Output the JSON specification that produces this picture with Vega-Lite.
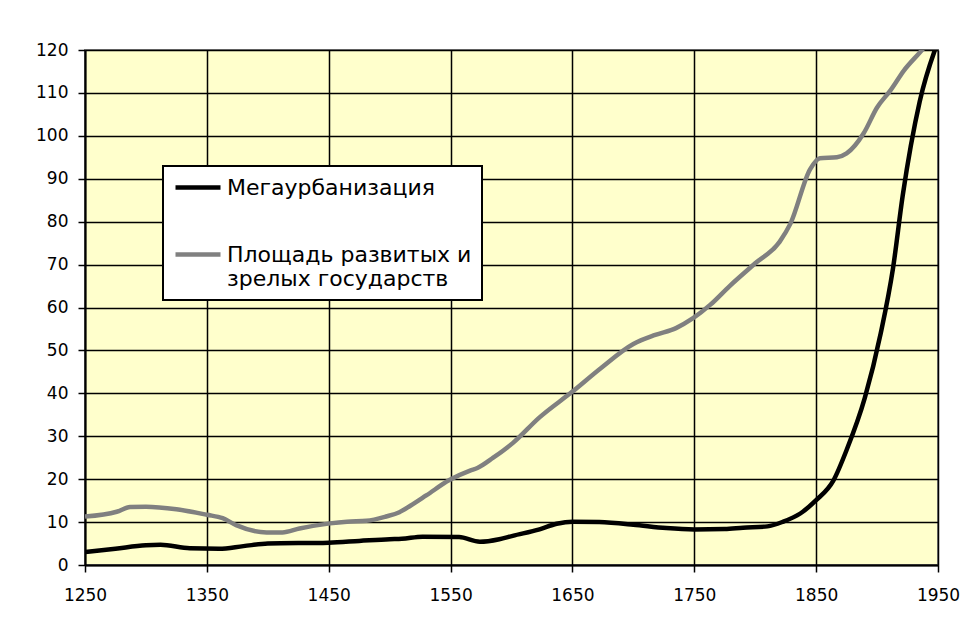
{
  "$schema": "https://vega.github.io/schema/vega-lite/v6.json",
  "autosize": "none",
  "width": 853,
  "height": 515,
  "padding": {"left": 85, "top": 50, "right": 24, "bottom": 58},
  "background": "white",
  "data": {
    "values": [
      {"year": 1250, "value": 3.0, "series": "Мегаурбанизация"},
      {"year": 1275, "value": 3.8, "series": "Мегаурбанизация"},
      {"year": 1300, "value": 4.6, "series": "Мегаурбанизация"},
      {"year": 1312, "value": 4.7, "series": "Мегаурбанизация"},
      {"year": 1336, "value": 3.9, "series": "Мегаурбанизация"},
      {"year": 1360, "value": 3.8, "series": "Мегаурбанизация"},
      {"year": 1380, "value": 4.4, "series": "Мегаурбанизация"},
      {"year": 1400, "value": 5.0, "series": "Мегаурбанизация"},
      {"year": 1450, "value": 5.2, "series": "Мегаурбанизация"},
      {"year": 1475, "value": 5.6, "series": "Мегаурбанизация"},
      {"year": 1500, "value": 6.0, "series": "Мегаурбанизация"},
      {"year": 1510, "value": 6.1, "series": "Мегаурбанизация"},
      {"year": 1527, "value": 6.6, "series": "Мегаурбанизация"},
      {"year": 1557, "value": 6.5, "series": "Мегаурбанизация"},
      {"year": 1574, "value": 5.4, "series": "Мегаурбанизация"},
      {"year": 1590, "value": 6.0, "series": "Мегаурбанизация"},
      {"year": 1601, "value": 6.8, "series": "Мегаурбанизация"},
      {"year": 1623, "value": 8.3, "series": "Мегаурбанизация"},
      {"year": 1637, "value": 9.6, "series": "Мегаурбанизация"},
      {"year": 1650, "value": 10.1, "series": "Мегаурбанизация"},
      {"year": 1672, "value": 10.0, "series": "Мегаурбанизация"},
      {"year": 1700, "value": 9.4, "series": "Мегаурбанизация"},
      {"year": 1727, "value": 8.6, "series": "Мегаурбанизация"},
      {"year": 1750, "value": 8.3, "series": "Мегаурбанизация"},
      {"year": 1775, "value": 8.4, "series": "Мегаурбанизация"},
      {"year": 1790, "value": 8.7, "series": "Мегаурбанизация"},
      {"year": 1810, "value": 9.0, "series": "Мегаурбанизация"},
      {"year": 1823, "value": 10.1, "series": "Мегаурбанизация"},
      {"year": 1837, "value": 12.0, "series": "Мегаурбанизация"},
      {"year": 1850, "value": 15.1, "series": "Мегаурбанизация"},
      {"year": 1864, "value": 19.6, "series": "Мегаурбанизация"},
      {"year": 1875, "value": 26.8, "series": "Мегаурбанизация"},
      {"year": 1890, "value": 39.0, "series": "Мегаурбанизация"},
      {"year": 1903, "value": 54.0, "series": "Мегаурбанизация"},
      {"year": 1913, "value": 69.0, "series": "Мегаурбанизация"},
      {"year": 1921, "value": 86.0, "series": "Мегаурбанизация"},
      {"year": 1935, "value": 108.0, "series": "Мегаурбанизация"},
      {"year": 1950, "value": 122.0, "series": "Мегаурбанизация"},
      {"year": 1250, "value": 11.3, "series": "Площадь развитых и зрелых государств"},
      {"year": 1276, "value": 12.4, "series": "Площадь развитых и зрелых государств"},
      {"year": 1287, "value": 13.5, "series": "Площадь развитых и зрелых государств"},
      {"year": 1300, "value": 13.6, "series": "Площадь развитых и зрелых государств"},
      {"year": 1325, "value": 13.0, "series": "Площадь развитых и зрелых государств"},
      {"year": 1350, "value": 11.7, "series": "Площадь развитых и зрелых государств"},
      {"year": 1363, "value": 10.9, "series": "Площадь развитых и зрелых государств"},
      {"year": 1374, "value": 9.3, "series": "Площадь развитых и зрелых государств"},
      {"year": 1399, "value": 7.6, "series": "Площадь развитых и зрелых государств"},
      {"year": 1412, "value": 7.6, "series": "Площадь развитых и зрелых государств"},
      {"year": 1426, "value": 8.5, "series": "Площадь развитых и зрелых государств"},
      {"year": 1451, "value": 9.7, "series": "Площадь развитых и зрелых государств"},
      {"year": 1465, "value": 10.1, "series": "Площадь развитых и зрелых государств"},
      {"year": 1481, "value": 10.3, "series": "Площадь развитых и зрелых государств"},
      {"year": 1497, "value": 11.3, "series": "Площадь развитых и зрелых государств"},
      {"year": 1508, "value": 12.3, "series": "Площадь развитых и зрелых государств"},
      {"year": 1517, "value": 13.8, "series": "Площадь развитых и зрелых государств"},
      {"year": 1530, "value": 16.2, "series": "Площадь развитых и зрелых государств"},
      {"year": 1549, "value": 19.8, "series": "Площадь развитых и зрелых государств"},
      {"year": 1566, "value": 22.0, "series": "Площадь развитых и зрелых государств"},
      {"year": 1572, "value": 22.6, "series": "Площадь развитых и зрелых государств"},
      {"year": 1585, "value": 25.0, "series": "Площадь развитых и зрелых государств"},
      {"year": 1601, "value": 28.4, "series": "Площадь развитых и зрелых государств"},
      {"year": 1623, "value": 34.4, "series": "Площадь развитых и зрелых государств"},
      {"year": 1650, "value": 40.4, "series": "Площадь развитых и зрелых государств"},
      {"year": 1673, "value": 45.8, "series": "Площадь развитых и зрелых государств"},
      {"year": 1700, "value": 51.5, "series": "Площадь развитых и зрелых государств"},
      {"year": 1718, "value": 53.6, "series": "Площадь развитых и зрелых государств"},
      {"year": 1735, "value": 55.2, "series": "Площадь развитых и зрелых государств"},
      {"year": 1749, "value": 57.5, "series": "Площадь развитых и зрелых государств"},
      {"year": 1763, "value": 60.6, "series": "Площадь развитых и зрелых государств"},
      {"year": 1779, "value": 65.0, "series": "Площадь развитых и зрелых государств"},
      {"year": 1800, "value": 70.3, "series": "Площадь развитых и зрелых государств"},
      {"year": 1820, "value": 75.3, "series": "Площадь развитых и зрелых государств"},
      {"year": 1829, "value": 79.6, "series": "Площадь развитых и зрелых государств"},
      {"year": 1845, "value": 92.2, "series": "Площадь развитых и зрелых государств"},
      {"year": 1853, "value": 94.8, "series": "Площадь развитых и зрелых государств"},
      {"year": 1867, "value": 95.0, "series": "Площадь развитых и зрелых государств"},
      {"year": 1875, "value": 95.9, "series": "Площадь развитых и зрелых государств"},
      {"year": 1889, "value": 100.6, "series": "Площадь развитых и зрелых государств"},
      {"year": 1900, "value": 106.6, "series": "Площадь развитых и зрелых государств"},
      {"year": 1911, "value": 110.6, "series": "Площадь развитых и зрелых государств"},
      {"year": 1922, "value": 115.2, "series": "Площадь развитых и зрелых государств"},
      {"year": 1938, "value": 120.4, "series": "Площадь развитых и зрелых государств"},
      {"year": 1950, "value": 125.0, "series": "Площадь развитых и зрелых государств"}
    ]
  },
  "mark": {"type": "line", "interpolate": "monotone", "strokeWidth": 4.5, "clip": true},
  "encoding": {
    "x": {
      "field": "year", "type": "quantitative",
      "scale": {"domain": [1250, 1950], "nice": false, "zero": false},
      "axis": {"values": [1250, 1350, 1450, 1550, 1650, 1750, 1850, 1950], "format": "d", "title": null, "labelPadding": 15, "labelFlush": false}
    },
    "y": {
      "field": "value", "type": "quantitative",
      "scale": {"domain": [0, 120], "nice": false},
      "axis": {"values": [0, 10, 20, 30, 40, 50, 60, 70, 80, 90, 100, 110, 120], "title": null, "labelPadding": 10}
    },
    "color": {
      "field": "series", "type": "nominal",
      "scale": {"domain": ["Мегаурбанизация", "Площадь развитых и зрелых государств"], "range": ["#000000", "#808080"]},
      "legend": {
        "title": null,
        "orient": "none",
        "legendX": 78,
        "legendY": 116,
        "symbolType": "M-1,0H4",
        "symbolSize": 324,
        "symbolStrokeWidth": 4.5,
        "labelOffset": 31,
        "labelFont": "DejaVu Sans",
        "labelFontSize": 22,
        "labelColor": "#000000",
        "labelLimit": 500,
        "labelExpr": "datum.label == 'Площадь развитых и зрелых государств' ? ['Площадь развитых и', 'зрелых государств'] : datum.label",
        "fillColor": "#ffffff",
        "strokeColor": "#000000",
        "padding": 10,
        "rowPadding": 44
      }
    }
  },
  "config": {
    "view": {"fill": "#FFFFCC", "stroke": "#808080", "strokeWidth": 2},
    "axis": {
      "labelFont": "DejaVu Sans",
      "labelFontSize": 17,
      "labelColor": "#000000",
      "domainColor": "#000000",
      "domainWidth": 2,
      "tickColor": "#000000",
      "tickWidth": 1.5,
      "tickSize": 7,
      "gridColor": "#000000",
      "gridWidth": 1.5,
      "gridOpacity": 1
    },
    "legend": {"strokeWidth": 2}
  }
}
